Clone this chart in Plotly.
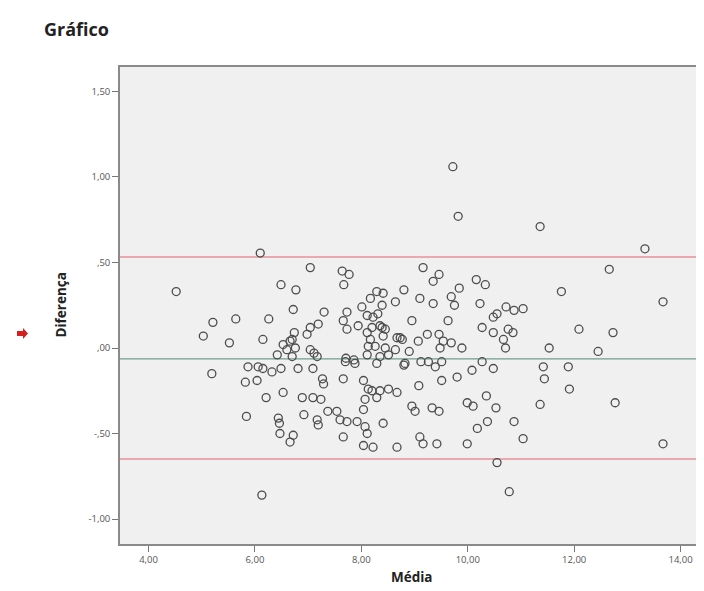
import plotly.graph_objects as go

# Bland-Altman style data: (Média, Diferença)
media = [
    9.72, 9.82, 11.36, 13.33, 6.10, 7.04, 7.64, 7.77, 7.67, 4.52,
    6.49, 6.77, 8.29, 8.41, 8.80, 8.17, 8.64, 8.39, 8.01, 6.72,
    7.30, 7.73, 9.16, 9.46, 9.35, 9.84, 10.16, 10.33, 12.66, 11.76,
    13.67, 9.10, 9.35, 9.69, 9.75, 10.23, 10.72, 10.87, 11.04, 10.48,
    10.55, 8.95, 9.63, 10.27, 10.48, 10.76, 10.85, 10.67, 10.71, 12.09,
    12.73, 11.53, 12.45, 8.73, 9.07, 9.24, 9.46, 9.54, 9.69, 9.48,
    9.89, 8.90, 8.82, 9.12, 9.26, 9.39, 9.51, 10.27, 10.48, 10.08,
    11.42, 11.44, 11.89, 11.91, 9.80, 9.51, 9.08, 10.35, 9.99, 10.10,
    10.53, 11.36, 12.77, 8.95, 9.01, 9.33, 9.46, 10.37, 10.18, 10.87,
    11.04, 9.10, 9.16, 9.42, 9.99, 13.67, 10.55, 10.78, 5.21, 5.64,
    6.26, 5.03, 5.52, 6.15, 6.74, 6.98, 7.04, 7.19, 6.53, 6.66,
    6.42, 6.70, 7.04, 7.11, 7.17, 7.66, 7.73, 7.94, 8.11, 8.22,
    8.31, 8.11, 8.39, 8.41, 8.67, 8.13, 8.11, 8.64, 8.51, 7.70,
    7.88, 8.29, 8.80, 5.19, 5.87, 6.06, 6.15, 6.32, 6.49, 6.81,
    7.09, 5.82, 6.04, 6.21, 6.53, 6.89, 7.27, 7.29, 7.09, 7.24,
    7.66, 8.04, 8.13, 8.20, 8.35, 8.51, 8.67, 8.07, 8.29, 5.84,
    6.92, 6.44, 6.46, 7.17, 7.19, 7.37, 7.54, 7.60, 7.73, 7.92,
    8.04, 8.07, 8.11, 8.41, 6.47, 6.72, 6.66, 7.66, 8.04, 8.22,
    8.67, 6.13, 6.70, 6.76, 6.60, 8.35, 8.45, 8.20, 8.17, 8.26,
    8.45, 8.35, 7.71, 7.86, 8.77,
]
diferenca = [
    1.06, 0.77, 0.71, 0.58, 0.555, 0.47, 0.45, 0.43, 0.37, 0.33,
    0.37, 0.34, 0.33, 0.32, 0.34, 0.29, 0.27, 0.25, 0.24, 0.225,
    0.21, 0.21, 0.47, 0.43, 0.39, 0.35, 0.40, 0.37, 0.46, 0.33,
    0.27, 0.29, 0.26, 0.30, 0.25, 0.26, 0.24, 0.22, 0.23, 0.18,
    0.20, 0.16, 0.16, 0.12, 0.09, 0.11, 0.09, 0.05, 0.00, 0.11,
    0.09, 0.00, -0.02, 0.06, 0.04, 0.08, 0.08, 0.04, 0.03, 0.00,
    0.00, -0.02, -0.09, -0.08, -0.08, -0.11, -0.08, -0.08, -0.12, -0.13,
    -0.11, -0.18, -0.11, -0.24, -0.17, -0.19, -0.22, -0.28, -0.32, -0.34,
    -0.35, -0.33, -0.32, -0.34, -0.37, -0.35, -0.37, -0.43, -0.47, -0.43,
    -0.53, -0.52, -0.56, -0.56, -0.56, -0.56, -0.67, -0.84, 0.15, 0.17,
    0.17, 0.07, 0.03, 0.05, 0.09, 0.08, 0.12, 0.14, 0.02, 0.04,
    -0.04, -0.05, -0.01, -0.03, -0.05, 0.16, 0.11, 0.13, 0.19, 0.18,
    0.20, 0.09, 0.12, 0.07, 0.06, 0.01, -0.04, -0.01, -0.04, -0.08,
    -0.09, -0.09, -0.10, -0.15, -0.11, -0.11, -0.12, -0.14, -0.12, -0.12,
    -0.12, -0.20, -0.19, -0.29, -0.26, -0.29, -0.18, -0.21, -0.29, -0.30,
    -0.18, -0.19, -0.24, -0.25, -0.25, -0.24, -0.26, -0.30, -0.29, -0.40,
    -0.39, -0.41, -0.44, -0.42, -0.45, -0.37, -0.37, -0.42, -0.43, -0.43,
    -0.36, -0.46, -0.50, -0.44, -0.50, -0.51, -0.55, -0.52, -0.57, -0.58,
    -0.58, -0.86, 0.05, 0.00, -0.01, 0.13, 0.11, 0.12, 0.05, 0.01,
    0.00, -0.05, -0.06, -0.07, 0.05,
]

# Reference lines: upper limit, mean difference, lower limit
limite_superior = 0.532
media_diferenca = -0.064
limite_inferior = -0.649

x_tickvals = [4, 6, 8, 10, 12, 14]
x_ticktext = ["4,00", "6,00", "8,00", "10,00", "12,00", "14,00"]
y_tickvals = [1.5, 1.0, 0.5, 0.0, -0.5, -1.0]
y_ticktext = ["1,50", "1,00", ",50", ",00", "-,50", "-1,00"]

x_range = [3.464, 14.44]
y_range = [-1.146, 1.643]

fig = go.Figure()

for val, col, w in [(limite_superior, "#e8909c", 1.6),
                    (limite_inferior, "#e8909c", 1.6),
                    (media_diferenca, "#6f9e90", 1.2)]:
    fig.add_trace(go.Scatter(
        x=x_range, y=[val, val], mode="lines",
        line=dict(color=col, width=w), hoverinfo="skip", showlegend=False,
    ))

fig.add_trace(go.Scatter(
    x=media, y=diferenca, mode="markers",
    marker=dict(symbol="circle-open", size=8, color="#4d4d4d",
                line=dict(width=1.3, color="#4d4d4d")),
    showlegend=False,
))

FONT = "Open Sans, DejaVu Sans, sans-serif"
axis_font = dict(family=FONT, size=9.5, color="#555555")

# The page body has an 8px margin, so the figure is 8px smaller than the window
fig.update_layout(
    width=696, height=583,
    margin=dict(l=112, r=0, t=59, b=47),
    paper_bgcolor="white",
    plot_bgcolor="#f0f0f0",
    title=dict(text="<b>Gráfico</b>", x=36 / 696, xanchor="left",
               y=1 - 22 / 583, yanchor="middle", xref="container", yref="container",
               font=dict(family=FONT, size=18, color="#222222")),
    xaxis=dict(range=x_range, tickvals=x_tickvals, ticktext=x_ticktext,
               showgrid=False, zeroline=False, showline=True, linecolor="#8a8a8a",
               linewidth=1.6, mirror=True, ticks="outside", ticklen=6, tickwidth=1,
               tickcolor="#777777", tickfont=axis_font),
    yaxis=dict(range=y_range, tickvals=y_tickvals, ticktext=y_ticktext,
               showgrid=False, zeroline=False, showline=True, linecolor="#8a8a8a",
               linewidth=1.6, ticks="outside", ticklen=6, tickwidth=1,
               tickcolor="#777777", tickfont=axis_font),
    annotations=[
        dict(text="<b>Média</b>", xref="paper", yref="paper",
             x=0.5, y=0, yshift=-33, xanchor="center", yanchor="middle",
             showarrow=False,
             font=dict(family=FONT, size=13.5, color="#222222")),
        dict(text="<b>Diferença</b>", xref="paper", yref="paper",
             x=0, xshift=-60, y=0.5, xanchor="center", yanchor="middle",
             textangle=-90, showarrow=False,
             font=dict(family=FONT, size=13.5, color="#222222")),
    ],
)

# small red SPSS pointer arrow at the left of the axis title (screen px -> paper)
def px(xp):
    return (xp - 120) / 584

def py(yp):
    return (544 - yp) / 477

arrow_path = (
    f"M {px(17)} {py(331)} L {px(23)} {py(331)} L {px(23)} {py(328)} "
    f"L {px(28)} {py(333.5)} L {px(23)} {py(339)} L {px(23)} {py(336)} "
    f"L {px(17)} {py(336)} Z"
)
fig.add_shape(type="path", path=arrow_path, xref="paper", yref="paper",
              fillcolor="#d42020", line=dict(width=0))

fig.write_html("out.html")
